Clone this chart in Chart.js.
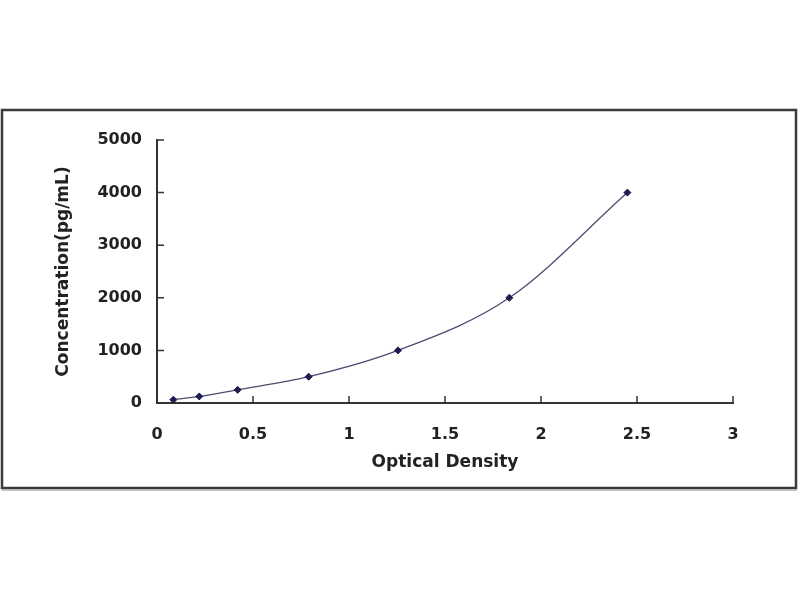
<!DOCTYPE html>
<html>
<head>
<meta charset="utf-8">
<title>Standard curve</title>
<script src="https://cdn.jsdelivr.net/npm/chart.js@4/dist/chart.umd.min.js"></script>
<style>
    html, body { margin: 0; padding: 0; background: #ffffff; }
    #wrap { width: 800px; height: 600px; }
</style>
</head>
<body>
<div id="wrap"><canvas id="curveChart" width="800" height="600"></canvas></div>
<script>
// Standard curve data
const opticalDensity = [0.085, 0.22, 0.42, 0.79, 1.255, 1.835, 2.45];
const concentration = [62.5, 125, 250, 500, 1000, 2000, 4000];
const xTicks = [0, 0.5, 1, 1.5, 2, 2.5, 3];
const yTicks = [0, 1000, 2000, 3000, 4000, 5000];

const axisColor = '#333333';
const textColor = '#222222';

// Outer frame around the whole chart
const framePlugin = {
    id: 'frame',
    beforeDraw(chart) {
        const ctx = chart.ctx;
        ctx.save();
        ctx.fillStyle = '#ffffff';
        ctx.fillRect(0, 0, chart.width, chart.height);
        ctx.strokeStyle = '#3a3a3a';
        ctx.lineWidth = 2.5;
        ctx.strokeRect(2, 110, 794, 378);
        ctx.strokeStyle = '#b0b0b0';
        ctx.lineWidth = 1.5;
        ctx.beginPath();
        ctx.moveTo(2, 490);
        ctx.lineTo(797, 490);
        ctx.stroke();
        ctx.restore();
    }
};

// Tick marks that point into the plot
const innerTicks = {
    id: 'innerTicks',
    afterDatasetsDraw(chart) {
        const ctx = chart.ctx;
        const x = chart.scales.x;
        const y = chart.scales.y;
        const len = 7;
        ctx.save();
        ctx.strokeStyle = axisColor;
        ctx.lineWidth = 1.5;
        ctx.beginPath();
        xTicks.forEach(v => {
            const px = x.getPixelForValue(v);
            ctx.moveTo(px, y.bottom);
            ctx.lineTo(px, y.bottom - len);
        });
        yTicks.forEach(v => {
            const py = y.getPixelForValue(v);
            ctx.moveTo(x.left, py);
            ctx.lineTo(x.left + len, py);
        });
        ctx.stroke();
        ctx.restore();
    }
};

const ctx = document.getElementById('curveChart').getContext('2d');

new Chart(ctx, {
    type: 'scatter',
    data: {
        datasets: [{
            label: 'Standard',
            data: opticalDensity.map((od, i) => ({ x: od, y: concentration[i] })),
            showLine: true,
            cubicInterpolationMode: 'monotone',
            borderColor: '#4c4c70',
            borderWidth: 1.3,
            pointStyle: 'rectRot',
            pointRadius: 3.5,
            pointBackgroundColor: '#1c1c50',
            pointBorderColor: '#1c1c50',
            pointBorderWidth: 1
        }]
    },
    options: {
        responsive: false,
        animation: false,
        layout: {
            padding: { left: 49, right: 67, top: 140, bottom: 123 }
        },
        plugins: {
            legend: { display: false },
            tooltip: { enabled: false }
        },
        scales: {
            x: {
                type: 'linear',
                min: 0,
                max: 3,
                afterFit(scale) { scale.height = 74; },
                afterBuildTicks(scale) { scale.ticks = xTicks.map(v => ({ value: v })); },
                grid: { display: true, drawOnChartArea: false, drawTicks: false },
                border: { display: true, color: axisColor, width: 2 },
                ticks: {
                    padding: 22,
                    color: textColor,
                    font: { family: 'DejaVu Sans', size: 16, weight: 'bold' },
                    callback: v => String(v)
                },
                title: {
                    display: true,
                    text: 'Optical Density',
                    color: textColor,
                    font: { family: 'DejaVu Sans', size: 17, weight: 'bold' }
                }
            },
            y: {
                type: 'linear',
                min: 0,
                max: 5000,
                afterFit(scale) { scale.width = 108; },
                afterBuildTicks(scale) { scale.ticks = yTicks.map(v => ({ value: v })); },
                grid: { display: true, drawOnChartArea: false, drawTicks: false },
                border: { display: true, color: axisColor, width: 2 },
                ticks: {
                    padding: 15,
                    color: textColor,
                    font: { family: 'DejaVu Sans', size: 16, weight: 'bold' },
                    callback: v => String(v)
                },
                title: {
                    display: true,
                    text: 'Concentration(pg/mL)',
                    color: textColor,
                    font: { family: 'DejaVu Sans', size: 17, weight: 'bold' }
                }
            }
        }
    },
    plugins: [framePlugin, innerTicks]
});
</script>
</body>
</html>
